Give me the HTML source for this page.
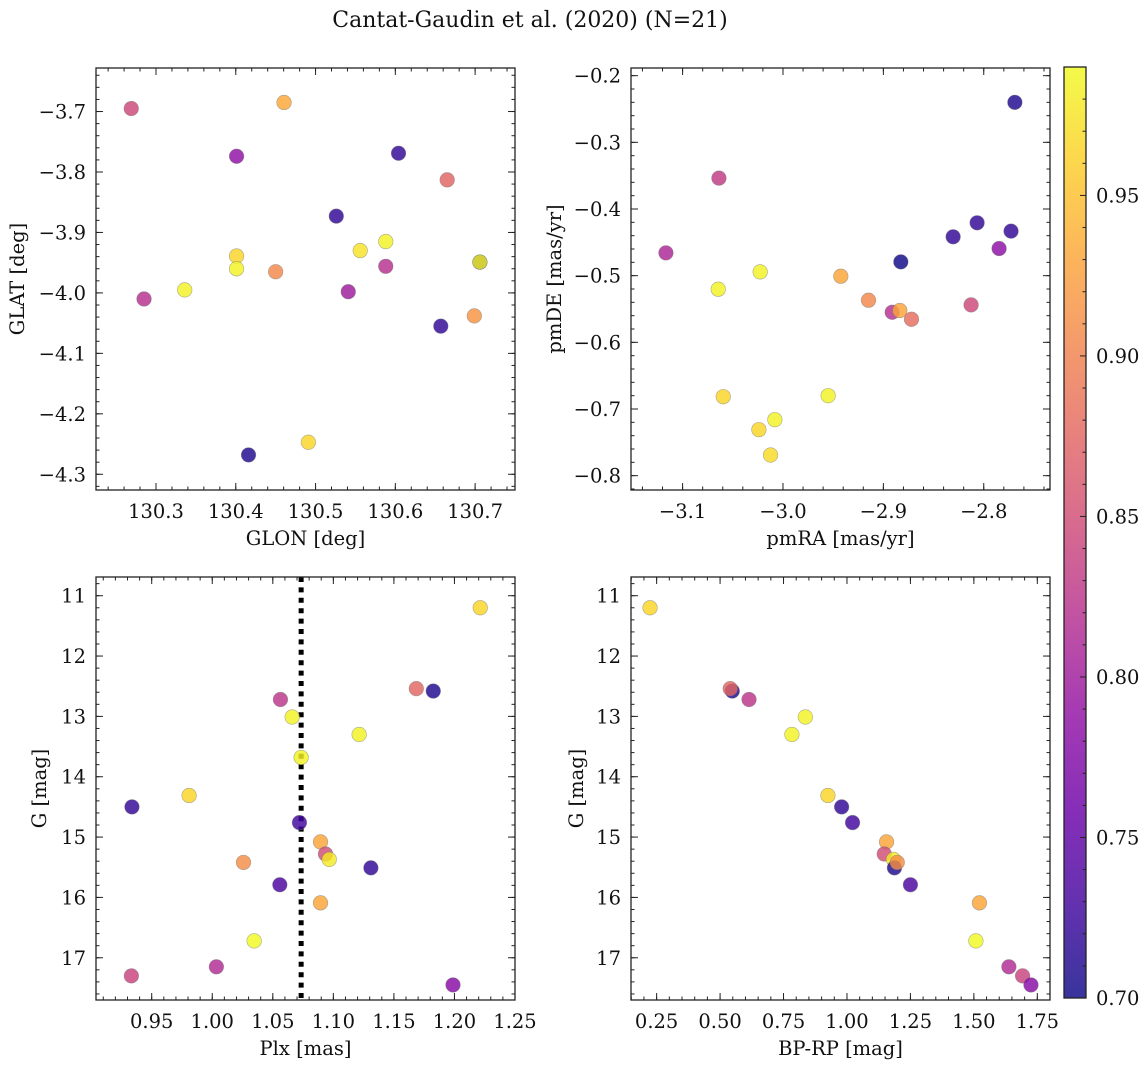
<!DOCTYPE html>
<html><head><meta charset="utf-8"><style>
html,body{margin:0;padding:0;background:#fff;}
svg{display:block;font-family:"DejaVu Serif","Liberation Serif",serif;}
</style></head><body>
<svg id="fig" width="1148" height="1067" viewBox="0 0 1148 1067">
<text x="530" y="27" text-anchor="middle" font-size="22" fill="#111">Cantat-Gaudin et al. (2020) (N=21)</text>
</svg>
<script>
// ---- data (per panel) ----
const tlGlon = [130.269,130.4605,130.401,130.604,130.665,130.526,130.588,130.556,130.401,130.401,130.450,130.706,130.706,130.588,130.336,130.285,130.541,130.699,130.657,130.491,130.416];
const tlGlat = [-3.695,-3.685,-3.774,-3.769,-3.813,-3.873,-3.915,-3.930,-3.939,-3.960,-3.965,-3.949,-3.949,-3.956,-3.995,-4.010,-3.998,-4.038,-4.055,-4.247,-4.268];
const tlProb = [0.845,0.932,0.787,0.72,0.874,0.72,0.985,0.975,0.965,0.985,0.905,0.71,0.985,0.82,0.985,0.82,0.80,0.915,0.72,0.965,0.71];

const trPmra = [-2.769,-3.0638,-3.1166,-2.8066,-2.8305,-2.7728,-2.7847,-2.8826,-3.0227,-3.0645,-2.9424,-2.9148,-2.8912,-2.8836,-2.872,-2.8126,-3.0595,-2.955,-3.0081,-3.024,-3.0124];
const trPmde = [-0.240,-0.3537,-0.4658,-0.4207,-0.4417,-0.4332,-0.4593,-0.4793,-0.4943,-0.5203,-0.5008,-0.5368,-0.5549,-0.5523,-0.5654,-0.5438,-0.6815,-0.680,-0.716,-0.731,-0.769];
const trProb = [0.71,0.83,0.81,0.72,0.72,0.72,0.785,0.70,0.985,0.985,0.93,0.905,0.82,0.93,0.88,0.845,0.965,0.985,0.985,0.965,0.97];

const blPlx = [1.2213,1.1685,1.1825,1.0563,1.066,1.1213,1.0734,0.9809,0.9337,1.072,1.0894,1.0935,1.0966,1.0258,1.131,1.0558,1.0894,1.0346,1.0034,0.9332,1.1988];
const blG = [11.20,12.54,12.58,12.72,13.01,13.30,13.68,14.31,14.50,14.76,15.08,15.28,15.37,15.42,15.51,15.79,16.09,16.72,17.15,17.30,17.45];
const blProb = [0.965,0.875,0.71,0.825,0.985,0.985,0.985,0.965,0.72,0.73,0.93,0.85,0.98,0.91,0.72,0.735,0.93,0.99,0.815,0.84,0.78];
const plxRef = [1.0734];

const brBprp = [0.224,0.548,0.540,0.614,0.836,0.783,0.925,0.979,1.022,1.156,1.147,1.183,1.187,1.198,1.250,1.522,1.508,1.638,1.692,1.725];
const brG = [11.20,12.58,12.54,12.72,13.01,13.30,14.31,14.50,14.76,15.08,15.28,15.37,15.51,15.42,15.79,16.09,16.72,17.15,17.30,17.45];
const brProb = [0.965,0.71,0.875,0.825,0.985,0.985,0.965,0.72,0.73,0.93,0.85,0.98,0.71,0.91,0.735,0.93,0.99,0.815,0.84,0.78];

const cbTicks = [0.70,0.75,0.80,0.85,0.90,0.95];
const vmin = 0.70, vmax = 0.99;

// ---- helpers ----
const NS = "http://www.w3.org/2000/svg";
const fig = document.getElementById('fig');
function mk(tag, attrs, parent){ const e=document.createElementNS(NS,tag); for(const k in attrs) e.setAttribute(k,attrs[k]); (parent||fig).appendChild(e); return e; }
const stops = ['#0d0887','#41049d','#6a00a8','#8f0da4','#b12a90','#cc4778','#e16462','#f2844b','#fca636','#fcce25','#f0f921'];
function hex(h){return [1,3,5].map(i=>parseInt(h.substr(i,2),16));}
function plasma(t){ t=Math.max(0,Math.min(1,t)); const f=t*10, i=Math.min(9,Math.floor(f)), r=f-i; const a=hex(stops[i]), b=hex(stops[i+1]); return 'rgb('+a.map((v,k)=>Math.round(v+(b[k]-v)*r)).join(',')+')'; }
function fmt(v,d){ const s=Math.abs(v).toFixed(d); return (v<-1e-9?'\u2212':'')+s; }
const FS = 19.5;

function panel(cfg){
  const {L,T,R,B,x0,x1,y0,y1,inv} = cfg;
  const sx = v => L+(v-x0)/(x1-x0)*(R-L);
  const sy = inv ? (v => T+(v-y0)/(y1-y0)*(B-T)) : (v => B-(v-y0)/(y1-y0)*(B-T));
  const g = mk('g',{});  
  const clipId = cfg.name+'-clip';
  const cp = mk('clipPath',{id:clipId},g); mk('rect',{x:L,y:T,width:R-L,height:B-T},cp);
  const tg = mk('g',{stroke:'#222','stroke-width':1},g);
   
  function ticksX(step, len, labels, d){
    const s = Math.ceil(x0/step-1e-6);
    for(let k=s; k*step<=x1+1e-9; k++){ const v=k*step, px=sx(v);
      mk('line',{x1:px,x2:px,y1:B,y2:B-len},tg); mk('line',{x1:px,x2:px,y1:T,y2:T+len},tg);
      if(labels){ const t=mk('text',{x:px,y:B+28,'text-anchor':'middle','font-size':FS,fill:'#111',stroke:'none'},g); t.textContent=fmt(v,d);
          } }
  }
  function ticksY(step, len, labels, d){
    const lo=Math.min(y0,y1), hi=Math.max(y0,y1); const s=Math.ceil(lo/step-1e-6);
    for(let k=s; k*step<=hi+1e-9; k++){ const v=k*step, py=sy(v);
      mk('line',{x1:L,x2:L+len,y1:py,y2:py},tg); mk('line',{x1:R,x2:R-len,y1:py,y2:py},tg);
      if(labels){ const t=mk('text',{x:L-10,y:py+7,'text-anchor':'end','font-size':FS,fill:'#111',stroke:'none'},g); t.textContent=fmt(v,d);
          } }
  }
  ticksX(cfg.xmaj,7,true,cfg.xd); ticksX(cfg.xmin,3.5,false);
  ticksY(cfg.ymaj,7,true,cfg.yd); ticksY(cfg.ymin,3.5,false);
  const pts = mk('g',{'clip-path':'url(#'+clipId+')'},g);
   
  if(cfg.vline){ cfg.vline.forEach(v=>{ const ln=mk('line',{x1:sx(v),x2:sx(v),y1:T,y2:B,stroke:'#000','stroke-width':5,'stroke-dasharray':'5,5.4'},pts);
      }); }
  cfg.xs.forEach((xv,i)=>{ const c=mk('circle',{cx:sx(xv),cy:sy(cfg.ys[i]),r:7.3,fill:plasma((cfg.cs[i]-vmin)/(vmax-vmin)),'fill-opacity':0.82,stroke:'#777','stroke-opacity':0.6,'stroke-width':0.6},pts);
      });
  const fr=mk('rect',{x:L,y:T,width:R-L,height:B-T,fill:'none',stroke:'#222','stroke-width':1.3},g);
   
  const xl=mk('text',{x:(L+R)/2,y:B+55,'text-anchor':'middle','font-size':FS,fill:'#111'},g); xl.textContent=cfg.xlabel;
   
  const yl=mk('text',{x:0,y:0,'text-anchor':'middle','font-size':FS,fill:'#111',transform:'translate('+cfg.ylx+','+((T+B)/2)+') rotate(-90)'},g); yl.textContent=cfg.ylabel;
   
}

panel({name:'glon-glat-panel',L:96,T:68,R:515,B:490,x0:130.2248,x1:130.750,y0:-4.326,y1:-3.628,xmaj:0.1,xmin:0.02,xd:1,ymaj:0.1,ymin:0.02,yd:1,xs:tlGlon,ys:tlGlat,cs:tlProb,xlabel:'GLON [deg]',ylabel:'GLAT [deg]',ylx:24});
panel({name:'pm-panel',L:631,T:68,R:1050,B:490,x0:-3.1514,x1:-2.734,y0:-0.8215,y1:-0.1885,xmaj:0.1,xmin:0.02,xd:1,ymaj:0.1,ymin:0.02,yd:1,xs:trPmra,ys:trPmde,cs:trProb,xlabel:'pmRA [mas/yr]',ylabel:'pmDE [mas/yr]',ylx:561});
panel({name:'plx-g-panel',L:96,T:577,R:515,B:1000,x0:0.904,x1:1.250,y0:10.69,y1:17.70,inv:true,xmaj:0.05,xmin:0.01,xd:2,ymaj:1,ymin:0.2,yd:0,xs:blPlx,ys:blG,cs:blProb,vline:plxRef,xlabel:'Plx [mas]',ylabel:'G [mag]',ylx:46});
panel({name:'cmd-panel',L:631,T:577,R:1050,B:1000,x0:0.149,x1:1.80,y0:10.69,y1:17.70,inv:true,xmaj:0.25,xmin:0.05,xd:2,ymaj:1,ymin:0.2,yd:0,xs:brBprp,ys:brG,cs:brProb,xlabel:'BP-RP [mag]',ylabel:'G [mag]',ylx:583});

// ---- colorbar ----
(function(){
  const L=1064,R=1086,T=67,B=998;
  const cy = v => B-(v-vmin)/(vmax-vmin)*(B-T);
  const g=mk('g',{});  
  const defs=mk('defs',{},g); const lg=mk('linearGradient',{id:'cbgrad',x1:0,y1:1,x2:0,y2:0},defs);
  for(let i=0;i<=20;i++){ mk('stop',{offset:(i/20),'stop-color':plasma(i/20)},lg); }
  mk('rect',{x:L,y:T,width:R-L,height:B-T,fill:'url(#cbgrad)','fill-opacity':0.82},g);
  for(let k=70;k<=99;k++){ const v=k/100, py=cy(v), maj=(k%5===0);
    mk('line',{x1:R,x2:R-(maj?6:3.5),y1:py,y2:py,stroke:'#222','stroke-width':1},g); }
  cbTicks.forEach(v=>{ const t=mk('text',{x:R+10,y:cy(v)+7,'font-size':FS,fill:'#111'},g); t.textContent=v.toFixed(2);
      });
  mk('rect',{x:L,y:T,width:R-L,height:B-T,fill:'none',stroke:'#222','stroke-width':1.3},g);
})();
</script>
</body></html>
